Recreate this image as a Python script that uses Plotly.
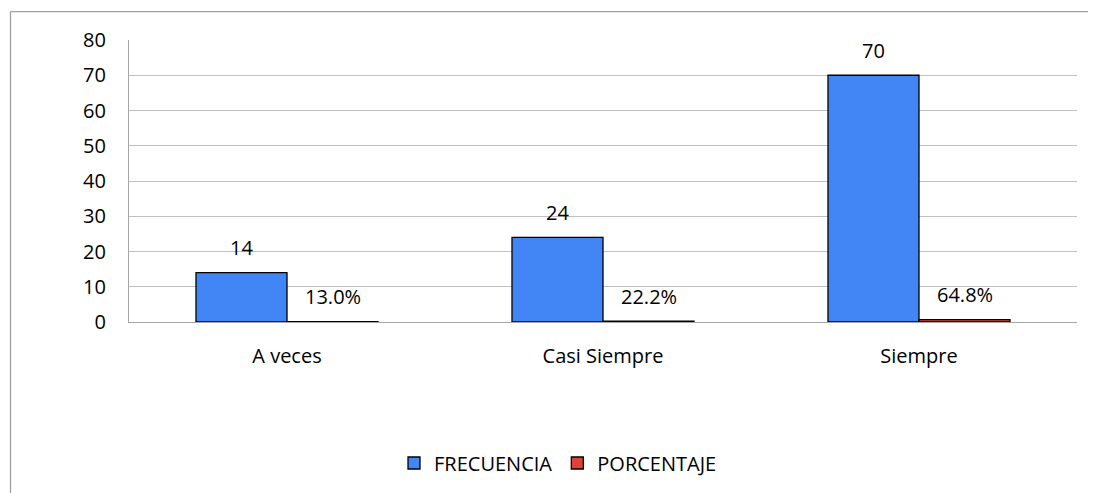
import plotly.graph_objects as go

categories = ["A veces", "Casi Siempre", "Siempre"]
frecuencia = [14, 24, 70]
porcentaje = [0.130, 0.222, 0.648]
y_ticks = [0, 10, 20, 30, 40, 50, 60, 70, 80]

FONT = "Open Sans"
FS = 20
BLUE = "#4285F4"
RED = "#DB4437"

# page has an 8px body margin; figure sized to fill the rest of the window
W, H = 1088, 485
L, R, T, B = 121, 19, 32, 170

fig = go.Figure()
fig.add_trace(go.Bar(
    name="FRECUENCIA", x=categories, y=frecuencia,
    marker=dict(color=BLUE, line=dict(color="#000000", width=1.3)),
))
fig.add_trace(go.Bar(
    name="PORCENTAJE", x=categories, y=porcentaje,
    marker=dict(color=RED, line=dict(color="#000000", width=1.3)),
))

plot_w = W - L - R
plot_h = H - T - B
bar_px = plot_w / len(categories) * 0.288
for i, c in enumerate(categories):
    fig.add_annotation(x=c, y=frecuencia[i], text=str(frecuencia[i]),
                       showarrow=False, xshift=-bar_px / 2, yshift=25,
                       yanchor="middle", font=dict(family=FONT, size=FS, color="#000"))
    fig.add_annotation(x=c, y=porcentaje[i], text=f"{porcentaje[i]*100:.1f}%",
                       showarrow=False, xshift=bar_px / 2, yshift=25,
                       yanchor="middle", font=dict(family=FONT, size=FS, color="#000"))

def px_to_paper_x(px):
    return (px - L) / plot_w
def px_to_paper_y(py):
    return (H - B - py) / plot_h

# outer chart border (only left and top edges are visible in the window)
fig.add_shape(type="line", xref="paper", yref="paper",
              x0=px_to_paper_x(2.5), y0=px_to_paper_y(3.5),
              x1=px_to_paper_x(1100), y1=px_to_paper_y(3.5),
              line=dict(color="#A0A0A0", width=1.3), layer="below")
fig.add_shape(type="line", xref="paper", yref="paper",
              x0=px_to_paper_x(2.5), y0=px_to_paper_y(3.5),
              x1=px_to_paper_x(2.5), y1=px_to_paper_y(500),
              line=dict(color="#A0A0A0", width=1.3), layer="below")

fig.update_layout(
    width=W, height=H,
    margin=dict(l=L, r=R, t=T, b=B),
    paper_bgcolor="white", plot_bgcolor="white",
    barmode="group", bargap=0.424, bargroupgap=0,
    font=dict(family=FONT, size=FS, color="#000"),
    showlegend=True,
    legend=dict(orientation="h", x=px_to_paper_x(550), xanchor="center",
                y=px_to_paper_y(455), yanchor="middle",
                font=dict(family=FONT, size=FS, color="#000"),
                itemwidth=30, traceorder="normal"),
    xaxis=dict(showline=True, linecolor="#A6A6A6", linewidth=1.3,
               ticks="", ticklabelstandoff=16, showgrid=False,
               tickfont=dict(family=FONT, size=FS, color="#000")),
    yaxis=dict(range=[0, 80], tickvals=y_ticks, showline=True, linecolor="#A6A6A6",
               linewidth=1.3, showgrid=True, gridcolor="#C0C0C0", gridwidth=1.3,
               zeroline=False, ticks="", ticklabelstandoff=18,
               tickfont=dict(family=FONT, size=FS, color="#000")),
)

fig.write_html("out.html")
